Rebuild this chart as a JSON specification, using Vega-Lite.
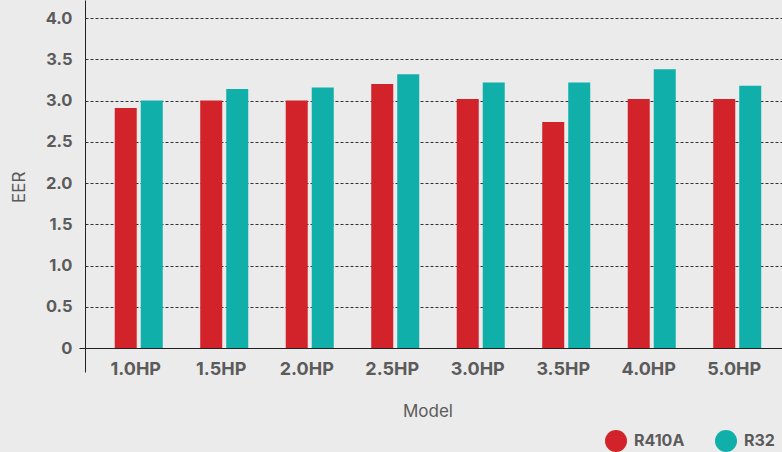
{
  "$schema": "https://vega.github.io/schema/vega-lite/v6.json",
  "background": "#ebebeb",
  "autosize": {"type": "none"},
  "padding": {"left": 85, "top": 0, "right": 0, "bottom": 104},
  "width": 697,
  "height": 348,
  "data": {
    "values": [
      {"model": "1.0HP", "refrigerant": "R410A", "eer": 2.91},
      {"model": "1.0HP", "refrigerant": "R32", "eer": 3.0},
      {"model": "1.5HP", "refrigerant": "R410A", "eer": 3.0},
      {"model": "1.5HP", "refrigerant": "R32", "eer": 3.14},
      {"model": "2.0HP", "refrigerant": "R410A", "eer": 3.0},
      {"model": "2.0HP", "refrigerant": "R32", "eer": 3.16},
      {"model": "2.5HP", "refrigerant": "R410A", "eer": 3.2},
      {"model": "2.5HP", "refrigerant": "R32", "eer": 3.32},
      {"model": "3.0HP", "refrigerant": "R410A", "eer": 3.02},
      {"model": "3.0HP", "refrigerant": "R32", "eer": 3.22},
      {"model": "3.5HP", "refrigerant": "R410A", "eer": 2.74},
      {"model": "3.5HP", "refrigerant": "R32", "eer": 3.22},
      {"model": "4.0HP", "refrigerant": "R410A", "eer": 3.02},
      {"model": "4.0HP", "refrigerant": "R32", "eer": 3.38},
      {"model": "5.0HP", "refrigerant": "R410A", "eer": 3.02},
      {"model": "5.0HP", "refrigerant": "R32", "eer": 3.18}
    ]
  },
  "mark": {"type": "bar"},
  "encoding": {
    "x": {
      "field": "model",
      "type": "nominal",
      "sort": null,
      "scale": {"paddingInner": 0, "paddingOuter": 0.076, "align": 0},
      "axis": {
        "title": "Model",
        "bandPosition": 0,
        "labelOffset": 8,
        "labelAngle": 0,
        "labelOverlap": false,
        "labelFont": "Inter",
        "labelFontSize": 18,
        "labelFontWeight": "bold",
        "labelColor": "#5b5b5b",
        "labelPadding": -12,
        "tickSize": 24,
        "tickColor": "#222222",
        "tickOpacity": {"condition": {"test": "datum.value === '1.0HP'", "value": 1}, "value": 0},
        "domainColor": "#222222",
        "titleFont": "Inter",
        "titleFontSize": 17,
        "titleFontWeight": "normal",
        "titleColor": "#5b5b5b",
        "titleX": 342.5,
        "titleY": 68,
        "titleBaseline": "alphabetic",
        "titleAlign": "center"
      }
    },
    "xOffset": {
      "field": "refrigerant",
      "type": "nominal",
      "sort": ["R410A", "R32"],
      "scale": {"paddingInner": 0.154, "paddingOuter": 0.721, "align": 0.793}
    },
    "y": {
      "field": "eer",
      "type": "quantitative",
      "scale": {"domain": [0, 4.22], "nice": false},
      "axis": {
        "title": "EER",
        "values": [0, 0.5, 1, 1.5, 2, 2.5, 3, 3.5, 4],
        "labelExpr": "datum.value === 0 ? '0' : format(datum.value, '.1f')",
        "labelFont": "Inter",
        "labelFontSize": 16.5,
        "labelFontWeight": "bold",
        "labelColor": "#5b5b5b",
        "labelPadding": 7,
        "tickSize": 6,
        "tickColor": "#222222",
        "tickOpacity": {"condition": {"test": "datum.value === 0", "value": 1}, "value": 0},
        "domainColor": "#222222",
        "grid": true,
        "gridColor": "#333333",
        "gridDash": [3, 2],
        "gridOpacity": 1,
        "titleFont": "Inter",
        "titleFontSize": 17,
        "titleFontWeight": "normal",
        "titleColor": "#5b5b5b",
        "titleAngle": 270,
        "titleX": -60.5,
        "titleY": 186.7,
        "titleBaseline": "alphabetic",
        "titleAlign": "center"
      }
    },
    "color": {
      "field": "refrigerant",
      "type": "nominal",
      "sort": ["R410A", "R32"],
      "scale": {"domain": ["R410A", "R32"], "range": ["#d2232a", "#10afa9"]},
      "legend": {
        "title": null,
        "orient": "none",
        "direction": "horizontal",
        "legendX": 520,
        "legendY": 430,
        "padding": 0,
        "symbolType": "circle",
        "symbolSize": 484,
        "symbolStrokeWidth": 0,
        "symbolOpacity": 1,
        "labelFont": "Inter",
        "labelFontSize": 16,
        "labelFontWeight": "bold",
        "labelColor": "#5b5b5b",
        "labelOffset": 7,
        "columnPadding": 30
      }
    }
  },
  "config": {"view": {"stroke": null}}
}
